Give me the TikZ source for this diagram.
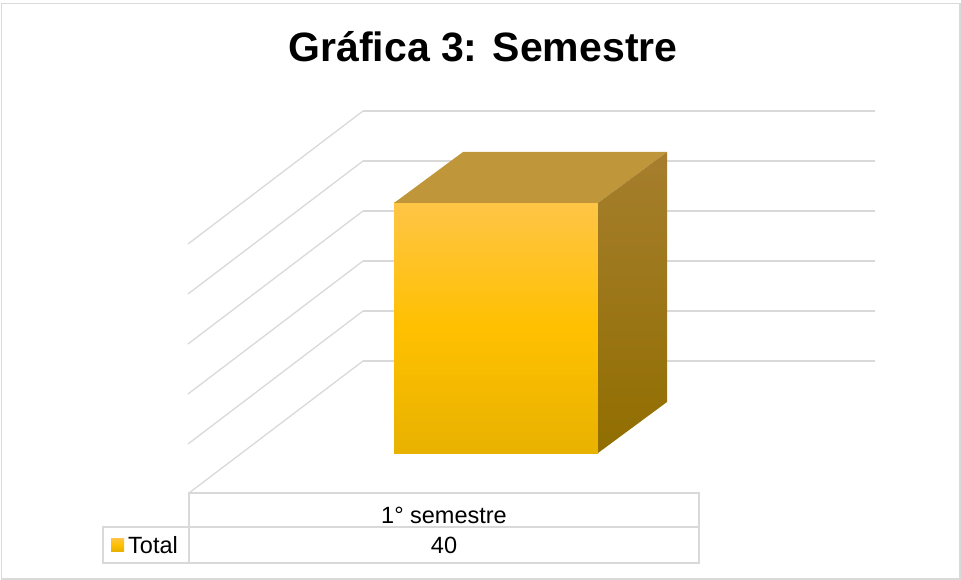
\documentclass[tikz,border=0pt]{standalone}
\usepackage{fontspec}
\setmainfont{Liberation Sans}
\usepackage{tikz}
\definecolor{gridgray}{RGB}{217,217,217}
\definecolor{barfronttop}{RGB}{255,197,70}
\definecolor{barfrontmid}{RGB}{255,192,0}
\definecolor{barfrontbot}{RGB}{232,178,0}
\definecolor{bartop}{RGB}{192,150,58}
\definecolor{barsidetop}{RGB}{166,126,46}
\definecolor{barsidebot}{RGB}{145,110,0}

\begin{document}
\begin{tikzpicture}[x=1pt, y=-1pt,
		gridline/.style={line width=1.3pt, color=gridgray},
		tableline/.style={line width=1.7pt, color=gridgray},
		celltext/.style={anchor=base, font=\fontsize{23.5}{26}\selectfont}]
			%%%%% START %%%%%
			
			\useasboundingbox (0, 0) rectangle (961, 580);
			\draw[line width=1.5pt, color=gridgray] (1.5, 3.5) rectangle (960, 579);
			
			\node[anchor=base, font=\fontsize{41}{44}\selectfont\bfseries] (title) at (483, 62) {Gráfica 3: Semestre};
			
			% back wall
			\draw[gridline] (363, 111) -- (875, 111);
			\draw[gridline] (363, 161) -- (875, 161);
			\draw[gridline] (363, 211) -- (875, 211);
			\draw[gridline] (363, 261) -- (875, 261);
			\draw[gridline] (363, 311) -- (875, 311);
			\draw[gridline] (363, 361) -- (875, 361);
			
			% side wall
			\draw[gridline] (363, 111) -- (188, 244);
			\draw[gridline] (363, 161) -- (188, 294);
			\draw[gridline] (363, 211) -- (188, 344);
			\draw[gridline] (363, 261) -- (188, 394);
			\draw[gridline] (363, 311) -- (188, 444);
			\draw[gridline] (363, 361) -- (189, 493);
			
			% bar
			\path[top color=barfronttop, bottom color=barfrontbot, middle color=barfrontmid] (394, 203) rectangle (598, 453);
			\fill[bartop] (394, 203) -- (463, 152) -- (667, 152) -- (598, 203) -- cycle;
			\path[top color=barsidetop, bottom color=barsidebot] (598, 203) -- (667, 152) -- (667, 402) -- (598, 453) -- cycle;
			
			% data table
			\draw[tableline] (189, 493) rectangle (699, 527);
			\draw[tableline] (103, 527) rectangle (699, 563);
			\draw[tableline] (189, 527) -- (189, 563);
			
			\node[celltext] (semestre) at (444, 523) {1° semestre};
			\node[celltext] (valor) at (444, 553) {40};
			\path[top color=barfronttop, bottom color=barfrontbot, middle color=barfrontmid] (111, 538) rectangle (124, 551);
			\node[celltext, anchor=base west, inner sep=0pt] (total) at (128, 553) {Total};
			
			%%%%% END %%%%%
		\end{tikzpicture}
\end{document}
